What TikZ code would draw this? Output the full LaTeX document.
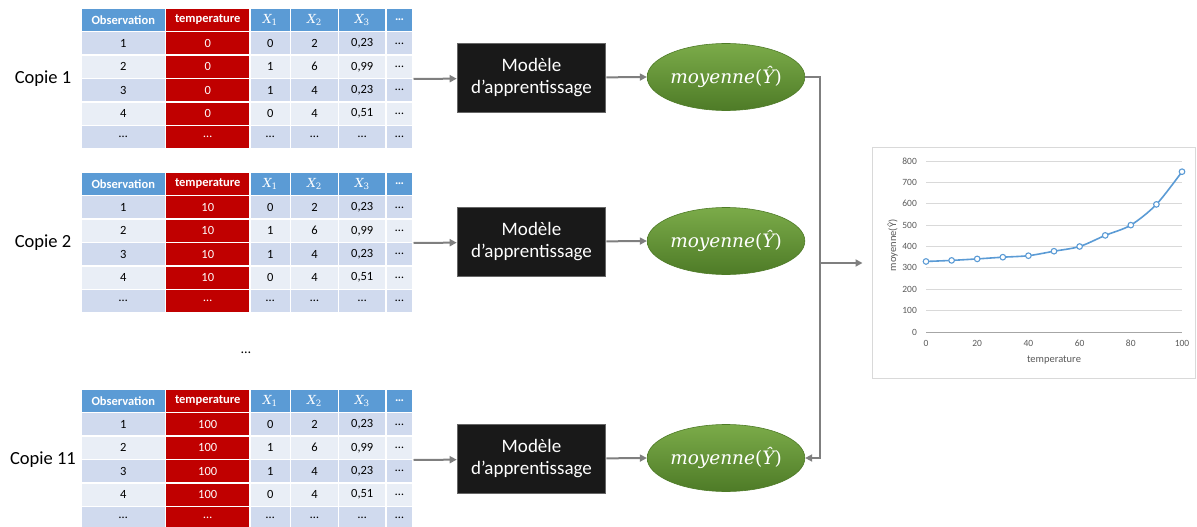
\documentclass[tikz,border=0pt]{standalone}
\usepackage{fontspec}
\setmainfont{Carlito}
\newfontfamily\mathlike{DejaVu Serif}
\usetikzlibrary{shapes.geometric,arrows.meta}
\definecolor{headblue}{HTML}{5B9BD5}
\definecolor{tempred}{HTML}{C00000}
\definecolor{rowdark}{HTML}{D0DAEE}
\definecolor{rowlight}{HTML}{E9EEF6}
\definecolor{flowgray}{HTML}{7F7F7F}
\definecolor{ellgreen}{HTML}{7BAB49}
\definecolor{ellgreendark}{HTML}{4E7B27}
\definecolor{plotblue}{HTML}{5B9BD5}
\definecolor{tickgray}{HTML}{595959}
\definecolor{gridgray}{HTML}{D9D9D9}
\newcommand\xvar[1]{{\mathlike\itshape X}\textsubscript{\mathlike #1}}
\tikzset{
 cell/.style={draw=white,line width=1.3pt,minimum height=23.4pt,inner sep=0pt,
  font=\fontsize{12.5}{14}\selectfont},
 head/.style={cell,fill=headblue,text=white,font=\fontsize{12.5}{14}\selectfont\bfseries},
 obscol/.style={minimum width=84.5pt},
 tempcol/.style={minimum width=84.5pt,fill=tempred,text=white},
 xonecol/.style={minimum width=40.5pt},
 xtwocol/.style={minimum width=48pt},
 xthreecol/.style={minimum width=47.5pt},
 dotcol/.style={minimum width=27pt},
 copielabel/.style={font=\fontsize{18.5}{22}\selectfont},
 model/.style={rectangle,fill=black!90,draw=black!60,line width=1.6pt,text=white,
  minimum width=148pt,minimum height=69pt,align=center,inner sep=0pt,
  font=\fontsize{19}{22}\selectfont},
 meannode/.style={ellipse,top color=ellgreen,bottom color=ellgreendark,draw=ellgreendark,
  line width=.6pt,text=white,minimum width=151pt,minimum height=67pt,inner sep=0pt,
  font=\fontsize{18.5}{22}\selectfont\mathlike},
 flow/.style={draw=flowgray,line width=2pt,->},
 chartframe/.style={draw=gridgray,line width=1pt,minimum width=323pt,minimum height=231pt},
 gridline/.style={draw=gridgray,line width=.8pt},
 plotline/.style={draw=plotblue,line width=1.6pt},
 marker/.style={draw=plotblue,fill=white,line width=1.1pt}
}
\begin{document}
\begin{tikzpicture}[x=1pt,y=-1pt,>={Triangle[length=7pt,width=7pt]},line join=miter]
 \useasboundingbox (0,0) rectangle (1197,527);
 % three copies of the data set
 \foreach \dy/\temp/\copie in {0/0/1,164/10/2,381/100/11}{
  \begin{scope}[shift={(0,\dy)}]
   \node[copielabel] (copie\copie) at (43,79) {Copie \copie};
   \node[head,obscol] (h\copie-1) at (123.25,20) {Observation};
   \node[head,tempcol] (h\copie-2) at (207.75,20) {temperature};
   \node[head,xonecol,font=\fontsize{12.5}{14}\selectfont] (h\copie-3) at (270.25,20) {\xvar{1}};
   \node[head,xtwocol,font=\fontsize{12.5}{14}\selectfont] (h\copie-4) at (314.5,20) {\xvar{2}};
   \node[head,xthreecol,font=\fontsize{12.5}{14}\selectfont] (h\copie-5) at (362.25,20) {\xvar{3}};
   \node[head,dotcol] (h\copie-6) at (399.5,20) {…};
   \foreach \rw/\obs/\xa/\xb/\xc in {1/1/0/2/{0,23},2/2/1/6/{0,99},3/3/1/4/{0,23},
     4/4/0/4/{0,51},5/…/…/…/…}{
    \pgfmathsetmacro\ry{20+23.4*\rw}
    \ifodd\rw \def\rowfill{rowdark}\else\def\rowfill{rowlight}\fi
    \node[cell,obscol,fill=\rowfill] (c\copie-\rw-1) at (123.25,\ry) {\obs};
    \node[cell,tempcol] (c\copie-\rw-2) at (207.75,\ry) {\ifnum\rw=5 …\else\temp\fi};
    \node[cell,xonecol,fill=\rowfill] (c\copie-\rw-3) at (270.25,\ry) {\xa};
    \node[cell,xtwocol,fill=\rowfill] (c\copie-\rw-4) at (314.5,\ry) {\xb};
    \node[cell,xthreecol,fill=\rowfill] (c\copie-\rw-5) at (362.25,\ry) {\xc};
    \node[cell,dotcol,fill=\rowfill] (c\copie-\rw-6) at (399.5,\ry) {…};
   }
   \coordinate (tabout\copie) at (413.5,79);
   \node[model] (model\copie) at (531.5,78) {Modèle\\d'apprentissage};
   \node[meannode] (mean\copie) at (726,77) {\itshape moyenne\upshape(\itshape Ŷ\upshape)};
   \draw[flow] (tabout\copie) -- (model\copie);
   \draw[flow] (model\copie) -- (mean\copie.west);
  \end{scope}
 }
 \node[font=\fontsize{14}{16}\selectfont] (gap) at (246,353) {…};
 % result chart
 \node[chartframe] (chart) at (1033.5,262.5) {};
 \coordinate (spine) at (820,263);
 \draw[flow] (mean1.east) -| (spine) |- (mean11.east);
 \draw[flow,shorten >=9pt] (spine) -- (chart.west |- spine);
 \begin{scope}[shift={(926,332)},x=2.56pt,y=0.21375pt,
   font=\fontsize{9.5}{11}\selectfont,text=tickgray]
  \foreach \v in {100,200,...,800}
   \draw[gridline] (0,\v) -- (100,\v);
  \draw[draw=black!35,line width=.8pt] (0,0) -- (100,0);
  \foreach \v in {0,100,...,800}
   \node[left,inner sep=0pt] (ytick\v) at (-3.5,\v) {\v};
  \foreach \t in {0,20,...,100}
   \node (xtick\t) at (\t,-55) {\t};
  \node[rotate=90,font=\fontsize{10.5}{12}\selectfont] (ylabel) at (-13,405) {moyenne(Ŷ)};
  \node[font=\fontsize{10.5}{12}\selectfont] (xlabel) at (50,-131) {temperature};
  \draw[plotline] plot[smooth,tension=.5] coordinates {(0,330) (10,335) (20,342)
   (30,350) (40,357) (50,378) (60,400) (70,452) (80,500) (90,597) (100,750)};
  \foreach \t/\v in {0/330,10/335,20/342,30/350,40/357,50/378,60/400,70/452,
    80/500,90/597,100/750}
   \draw[marker] (\t,\v) circle[radius=2.8pt];
 \end{scope}
\end{tikzpicture}
\end{document}
